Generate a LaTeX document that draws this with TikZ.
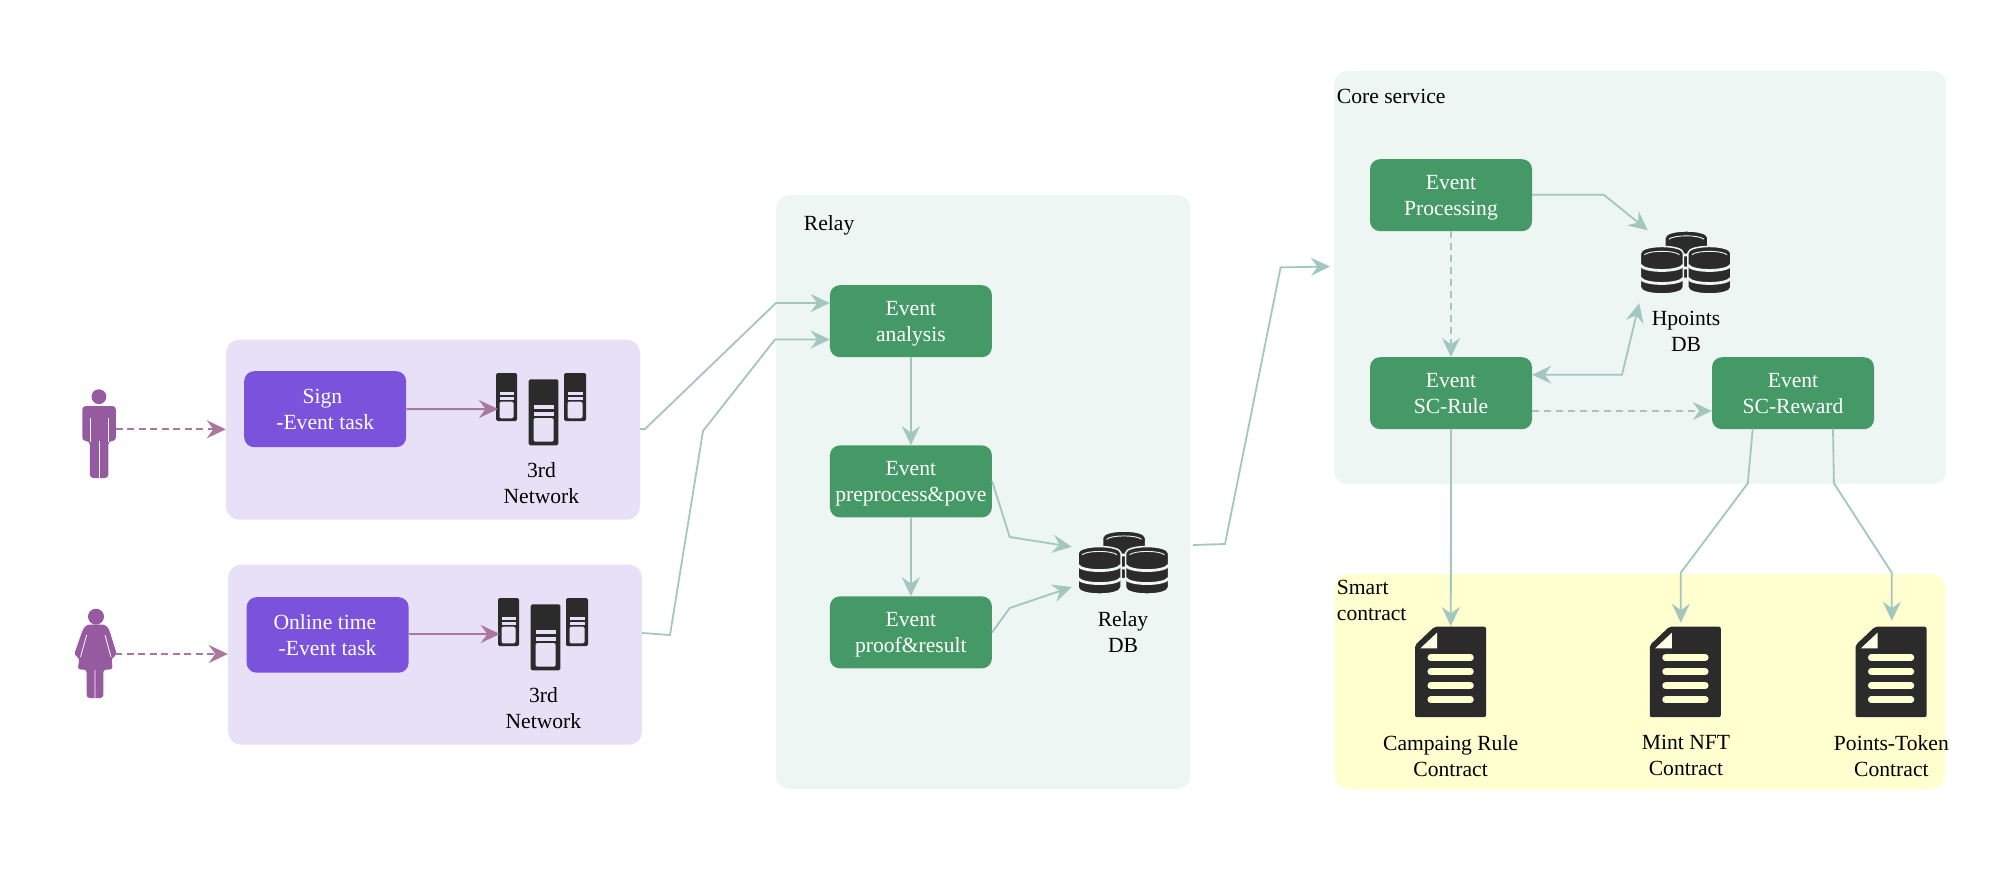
\documentclass[tikz,border=0pt]{standalone}
\usepackage{fontspec}
\setmainfont{Liberation Serif}
\usetikzlibrary{arrows.meta}

\definecolor{lilacbg}{HTML}{E8E0F7}
\definecolor{taskviolet}{HTML}{7B52DC}
\definecolor{eventgreen}{HTML}{449966}
\definecolor{mintbg}{HTML}{EDF6F3}
\definecolor{lemonbg}{HTML}{FFFFD0}
\definecolor{linkgreen}{HTML}{A3C6BF}
\definecolor{linkplum}{HTML}{A9789F}
\definecolor{personplum}{HTML}{955A9F}
\definecolor{icondark}{HTML}{2B2B2B}

\tikzset{
  txt/.style={font=\fontsize{21.6}{26}\selectfont, inner sep=0pt, align=center, text depth=0pt},
  groupbox/.style={anchor=north west, rounded corners=13pt, inner sep=0pt},
  eventbox/.style={txt, anchor=north west, fill=eventgreen, text=white, rounded corners=10pt,
                   minimum width=162pt, minimum height=72pt},
  taskbox/.style={txt, anchor=north west, fill=taskviolet, text=white, rounded corners=10pt,
                  minimum width=162pt, minimum height=76pt},
  link/.style={draw=linkgreen, line width=1.8pt, -{Stealth[length=19pt,width=18pt,inset=6.5pt]}},
  plumlink/.style={draw=linkplum, line width=2pt, -{Stealth[length=19pt,width=18pt,inset=6.5pt]}},
  pics/server/.style={code={
    \foreach \xa/\w/\ya/\h/\ba/\bb/\wa/\wb/\pad in
        {0/21/0/48/18.7/23.7/28.7/45.3/3.5, 68/22/0/48/18.7/23.7/28.7/45.3/3.5, 32.7/29.7/6.3/66/32/39/45/68.7/4.8} {
      \fill[icondark, rounded corners=1.5pt] (\xa,\ya) rectangle ++(\w,\h);
      \fill[lilacbg] (\xa+\pad,\ba) rectangle (\xa+\w-\pad,\ba+3.6);
      \fill[lilacbg] (\xa+\pad,\bb) rectangle (\xa+\w-\pad,\bb+3.6);
      \fill[lilacbg, rounded corners=1.5pt] (\xa+\pad,\wa) rectangle (\xa+\w-\pad,\wb);
    }
  }},
  pics/cylinder/.style={code={
    \filldraw[fill=icondark, draw=mintbg, line width=1.5pt]
      (0,6) -- (0,40) .. controls (0,49) and (43,49) .. (43,40)
      -- (43,6) .. controls (43,-3) and (0,-3) .. (0,6) -- cycle;
    \draw[mintbg, line width=0.9pt] (4,7.5) .. controls (9,3) and (34,3) .. (39,7.5);
    \foreach \yy in {18,31}
      \draw[mintbg, line width=2.8pt] (0,\yy) .. controls (4,\yy+7) and (39,\yy+7) .. (43,\yy);
  }},
  pics/dbicon/.style={code={
    \pic at (24.5,0) {cylinder};
    \pic at (0,15.5) {cylinder};
    \pic at (47.5,15.5) {cylinder};
  }},
  pics/contract/.style={code={
    \fill[icondark, rounded corners=2pt] (0,18.5) -- (19.5,0) -- (71,0) -- (71,90.5) -- (0,90.5) -- cycle;
    \fill[lemonbg!50!white] (5.3,21.7) -- (22,6) -- (22,21.7) -- cycle;
    \foreach \yy in {31,45,59,73}
      \draw[lemonbg, line width=6.5pt, line cap=round] (15.7,\yy) -- (55.5,\yy);
  }}
}

\begin{document}
\begin{tikzpicture}[x=1pt, y=-1pt]
\useasboundingbox (0,0) rectangle (2016,870);

% group panels
\node[groupbox, fill=lilacbg, minimum width=414pt, minimum height=180pt] (signpanel) at (225.8,339.5) {};
\node[groupbox, fill=lilacbg, minimum width=414pt, minimum height=180pt] (onlinepanel) at (227.8,564.5) {};
\node[groupbox, fill=mintbg, minimum width=414pt, minimum height=594pt] (relaypanel) at (776,195) {};
\node[groupbox, fill=mintbg, minimum width=612pt, minimum height=413pt] (corepanel) at (1334,71) {};
\node[groupbox, fill=lemonbg, minimum width=610.5pt, minimum height=215pt] (smartpanel) at (1334.5,573.8) {};

\node[txt, anchor=west] (relaytitle) at (803.7,223) {Relay};
\node[txt, anchor=west] (coretitle) at (1336.7,96) {Core service};
\node[txt, anchor=west, align=left] (smarttitle) at (1336.7,600.3) {Smart\\contract};

% persons
\fill[personplum] (98.9,396.7) circle (7.4);
\fill[personplum, rounded corners=3.5pt] (82.3,441) -- (82.3,406) -- (115.9,406) -- (115.9,441)
  -- (108.4,441) -- (108.4,478) -- (89.8,478) -- (89.8,441) -- cycle;
\draw[white, line width=0.8pt] (90,418) -- (90,442) (108.2,418) -- (108.2,442) (99,441) -- (99,478);
\fill[personplum] (96,616.7) circle (8);
\fill[personplum, rounded corners=3pt] (74,655) -- (83,629) -- (87,624.5) -- (105,624.5) -- (109,629)
  -- (117,655) -- (111.5,658) -- (112.7,669.5) -- (103.3,669.5) -- (103.3,698) -- (86.7,698)
  -- (86.7,669.5) -- (77.7,669.5) -- (79.5,658) -- cycle;
\draw[white, line width=0.8pt] (86.7,635) -- (80.5,657) (105,635) -- (111,657) (95,670) -- (95,699);
\coordinate (manout) at (115.9,429.3);
\coordinate (womanout) at (115,654);

% tasks and servers
\node[taskbox] (signtask) at (244,371) {Sign\hspace*{5.5pt}\\-Event task};
\node[taskbox, minimum height=75.5pt] (onlinetask) at (246.4,597) {Online time\hspace*{5.5pt}\\-Event task};
\pic at (496,373) {server};
\pic at (498,598) {server};
\coordinate (signserver) at (498,409);
\coordinate (onlineserver) at (499.8,634);
\node[txt] (signnet) at (541.4,483) {3rd\\Network};
\node[txt] (onlinenet) at (543.4,708) {3rd\\Network};

% relay
\node[eventbox] (analysis) at (829.7,285) {Event\\analysis};
\node[eventbox] (preprocess) at (829.7,445.2) {Event\\preprocess\&pove};
\node[eventbox] (proof) at (829.7,596.2) {Event\\proof\&result};
\pic at (1078,531.8) {dbicon};
\node[txt] (relaydb) at (1123,631.5) {Relay\\DB};
\coordinate (relaydbupper) at (1071.7,546.8);
\coordinate (relaydblower) at (1071.7,587);

% core service
\node[eventbox] (processing) at (1369.8,159) {Event\\Processing};
\node[eventbox] (scrule) at (1369.8,357) {Event\\SC-Rule};
\node[eventbox] (screward) at (1711.8,357) {Event\\SC-Reward};
\pic at (1640.4,231.7) {dbicon};
\node[txt] (hpointsdb) at (1686,331.5) {Hpoints\\DB};
\coordinate (hpointsin) at (1647.8,230.3);
\coordinate (hpointsboth) at (1639.2,303.3);
\coordinate (coreentry) at (1330,266.5);

% contracts
\pic at (1415,626.7) {contract};
\pic at (1649.8,626.7) {contract};
\pic at (1855.5,626.7) {contract};
\coordinate (ruledoc) at (1450.8,626);
\coordinate (mintdoc) at (1680.8,622.7);
\coordinate (pointsdoc) at (1891.8,620.7);
\node[txt] (rulelabel) at (1450.6,755.5) {Campaing Rule\\Contract};
\node[txt] (mintlabel) at (1686,755.5) {Mint NFT\\Contract};
\node[txt] (pointslabel) at (1891.4,755.5) {Points-Token\\Contract};

% connectors
\draw[plumlink, dashed, dash pattern=on 7pt off 4.5pt] (manout) -- (signpanel.west |- manout);
\draw[plumlink, dashed, dash pattern=on 7pt off 4.5pt] (womanout) -- (onlinepanel.west |- womanout);
\draw[plumlink] (signtask.east) -- (signserver);
\draw[plumlink] (onlinetask.east |- onlineserver) -- (onlineserver);

\draw[link] (signpanel.east |- 0,429) -- (645,429) -- (776,303) -- (analysis.west |- 0,303);
\draw[link] (onlinepanel.east |- 0,633) -- (670,635) -- (703,431) -- (775,339.5) -- (analysis.west |- 0,339.5);
\draw[link] (analysis.south) -- (preprocess.north);
\draw[link] (preprocess.south) -- (proof.north);
\draw[link] (preprocess.east |- 0,481) -- (1009.7,537) -- (relaydbupper);
\draw[link] (proof.east) -- (1009.7,608) -- (relaydblower);
\draw[link] (1193,545) -- (1225,544) -- (1280.6,267.4) -- (coreentry);

\draw[link] (processing.east |- 0,194.7) -- (1603.7,194.7) -- (hpointsin);
\draw[link, dashed, dash pattern=on 7pt off 5pt] (processing.south) -- (scrule.north);
\draw[link, {Stealth[length=19pt,width=18pt,inset=6.5pt]}-{Stealth[length=19pt,width=18pt,inset=6.5pt]}]
  (scrule.east |- 0,374.7) -- (1622,374.7) -- (hpointsboth);
\draw[link, dashed, dash pattern=on 7pt off 5pt] (scrule.east |- 0,411) -- (screward.west |- 0,411);
\draw[link] (scrule.south) -- (ruledoc);
\draw[link] (1752.7,428.7) -- (1747.8,483.3) -- (1680.8,572.7) -- (mintdoc);
\draw[link] (1833,428.7) -- (1833.9,483.3) -- (1891.8,572.7) -- (pointsdoc);
\end{tikzpicture}
\end{document}
